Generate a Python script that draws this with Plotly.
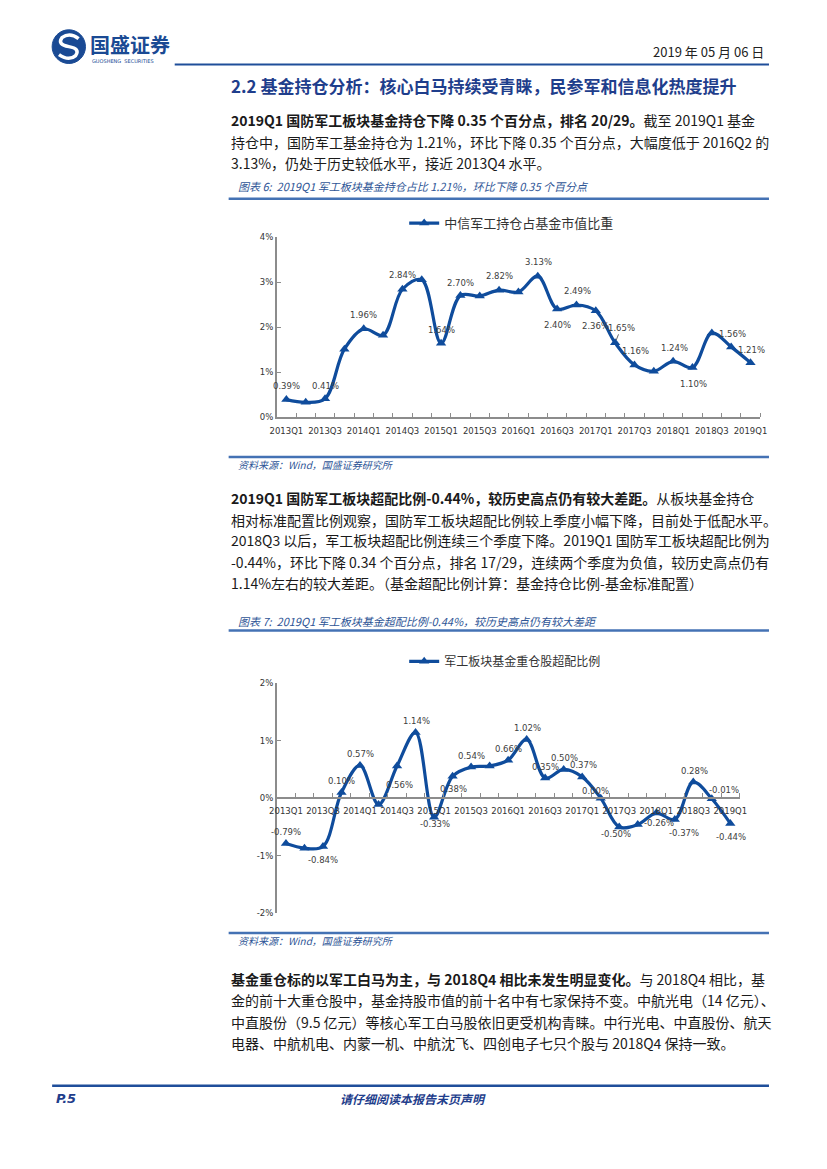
import plotly.graph_objects as go

W, H = 827, 1169


def px(x):
    return x / W


def py(y):
    return 1 - y / H


# ---------------- data ----------------
quarters = ["2013Q1", "2013Q2", "2013Q3", "2013Q4", "2014Q1", "2014Q2", "2014Q3", "2014Q4",
            "2015Q1", "2015Q2", "2015Q3", "2015Q4", "2016Q1", "2016Q2", "2016Q3", "2016Q4",
            "2017Q1", "2017Q2", "2017Q3", "2017Q4", "2018Q1", "2018Q2", "2018Q3", "2018Q4",
            "2019Q1"]
holding_pct = [0.39, 0.33, 0.41, 1.51, 1.96, 1.82, 2.84, 3.05, 1.64, 2.70, 2.69, 2.82, 2.78,
               3.13, 2.40, 2.49, 2.36, 1.65, 1.16, 1.02, 1.24, 1.10, 1.87, 1.56, 1.21]
overweight_pct = [-0.79, -0.87, -0.84, 0.10, 0.57, -0.11, 0.56, 1.14, -0.33, 0.38, 0.54, 0.56,
                  0.66, 1.02, 0.35, 0.50, 0.37, 0.00, -0.50, -0.46, -0.26, -0.37, 0.28, -0.01,
                  -0.44]
series1_name = "中信军工持仓占基金市值比重"
series2_name = "军工板块基金重仓股超配比例"
y1_ticks = [0, 1, 2, 3, 4]
y1_ticktext = ["0%", "1%", "2%", "3%", "4%"]
y2_ticks = [-2, -1, 0, 1, 2]
y2_ticktext = ["-2%", "-1%", "0%", "1%", "2%"]

# label placement (pixel offsets from the point) -- styling only
labels1 = {0: (0, 14), 2: (0, 13), 4: (0, 14), 6: (0, 14.5), 8: (0.5, 13.5), 9: (0.5, 13),
           11: (0.5, 14.4), 13: (0.3, 14), 14: (0.6, -15.6), 15: (1, 14), 16: (-0.4, -15),
           18: (1.3, 13.7), 20: (1.6, 13.7), 21: (1.3, -16), 23: (1, 13), 24: (0.7, 13)}
labels2 = {0: (0, 12), 2: (0, -14), 3: (0, 11.6), 4: (0, 11.3), 6: (2, -19), 7: (0.7, 12),
           8: (1, -7), 9: (0.7, -13), 10: (0.4, 11.4), 12: (0.7, 11.4), 13: (1, 11.2),
           14: (0.5, 11.4), 15: (0.7, 11.7), 16: (1.5, 12), 17: (-5, 7), 18: (-3, -7),
           20: (3, -10), 21: (9.6, -14), 22: (1, 11.5), 23: (12.4, 9), 24: (1, -14)}

LINE_BLUE = "#0F4C9C"
TITLE_BLUE = "#1F3E8C"
CAP_BLUE = "#2E5596"
RULE_BLUE = "#4472B4"
AXIS_GRAY = "#8C8C8C"
CJK = "Noto Sans CJK SC"
LAT = "DejaVu Sans"

idx = list(range(len(quarters)))

fig = go.Figure()
fig.add_trace(go.Scatter(
    x=idx, y=holding_pct, mode="lines+markers", name=series1_name, showlegend=True,
    line=dict(color=LINE_BLUE, width=3.2, shape="spline", smoothing=1),
    marker=dict(symbol="triangle-up", size=9, color=LINE_BLUE),
    xaxis="x", yaxis="y", legend="legend", hoverinfo="skip", cliponaxis=False))
fig.add_trace(go.Scatter(
    x=idx, y=overweight_pct, mode="lines+markers", name=series2_name, showlegend=True,
    line=dict(color=LINE_BLUE, width=3.2, shape="spline", smoothing=1),
    marker=dict(symbol="triangle-up", size=9, color=LINE_BLUE),
    xaxis="x2", yaxis="y2", legend="legend2", hoverinfo="skip", cliponaxis=False))

tickfont = dict(family=LAT, size=8.5, color="#333333")
minor_ticks = dict(tickmode="array", tickvals=[i - 0.5 for i in range(len(quarters) + 1)],
                   ticks="inside", ticklen=4, tickwidth=1, tickcolor=AXIS_GRAY)


def xax(domain, **kw):
    d = dict(domain=domain, range=[-0.5, len(quarters) - 0.5], tickmode="array",
             tickvals=idx[::2], ticktext=quarters[::2], ticks="", showgrid=False,
             zeroline=False, showline=True, linecolor=AXIS_GRAY, linewidth=1.5,
             tickfont=tickfont, minor=minor_ticks, fixedrange=True, ticklabelstandoff=5)
    d.update(kw)
    return d


def yax(domain, rng, tv, tt, **kw):
    d = dict(domain=domain, range=rng, tickmode="array", tickvals=tv, ticktext=tt,
             ticks="inside", ticklen=5, tickwidth=1, tickcolor=AXIS_GRAY, showgrid=False,
             zeroline=False, showline=True, linecolor=AXIS_GRAY, linewidth=1.5,
             tickfont=tickfont, fixedrange=True)
    d.update(kw)
    return d


fig.update_layout(
    width=W, height=H, autosize=False, showlegend=True,
    margin=dict(l=0, r=0, t=0, b=0),
    paper_bgcolor="white", plot_bgcolor="rgba(0,0,0,0)",
    xaxis=xax([px(274), px(767)], anchor="y"),
    yaxis=yax([py(415.7), py(234)], [0, 4], y1_ticks, y1_ticktext, anchor="x"),
    xaxis2=xax([px(274), px(746)], anchor="free", position=py(800)),
    yaxis2=yax([py(916), py(684)], [-2, 2], y2_ticks, y2_ticktext, anchor="x2"),
    legend=dict(visible=True, x=px(404), y=py(220), xanchor="left", yanchor="middle",
                font=dict(family=CJK, size=13, color="#333333"), bgcolor="rgba(0,0,0,0)"),
    legend2=dict(visible=True, x=px(404), y=py(662), xanchor="left", yanchor="middle",
                 font=dict(family=CJK, size=12, color="#333333"), bgcolor="rgba(0,0,0,0)"),
)

ann = []


def lbl_font():
    return dict(family=LAT, size=8.5, color="#404040")


for i, (dx, dy) in labels1.items():
    ann.append(dict(x=idx[i], y=holding_pct[i], xref="x", yref="y", text=f"{holding_pct[i]:.2f}%",
                    showarrow=False, xshift=dx, yshift=dy, font=lbl_font()))
# 2017Q2 label with leader line
ann.append(dict(x=idx[17], y=holding_pct[17], xref="x", yref="y", text=f"{holding_pct[17]:.2f}%",
                showarrow=True, arrowhead=0, arrowwidth=0.8, arrowcolor="#404040",
                ax=6, ay=-15, standoff=3, font=lbl_font()))
for i, (dx, dy) in labels2.items():
    ann.append(dict(x=idx[i], y=overweight_pct[i], xref="x2", yref="y2",
                    text=f"{overweight_pct[i]:.2f}%", showarrow=False, xshift=dx, yshift=dy,
                    font=lbl_font()))


def text(x, y, s, size=14, color="#1a1a1a", xanchor="left", family=CJK):
    ann.append(dict(x=px(x), y=py(y), xref="paper", yref="paper", text=s, showarrow=False,
                    xanchor=xanchor, yanchor="middle", font=dict(family=family, size=size, color=color)))


# header
text(82, 40, "<b>国盛证券</b>", size=20, color="#1A4A94")
text(84, 56, "GUOSHENG  SECURITIES", size=5, color="#1A4A94", family=LAT)
text(773, 47, "2019 年 05 月 06 日", size=13, color="#222222", xanchor="right")
text(225, 81, "<b>2.2 基金持仓分析：核心白马持续受青睐，民参军和信息化热度提升</b>", size=17, color=TITLE_BLUE)

p1 = ["<b>2019Q1 国防军工板块基金持仓下降 0.35 个百分点，排名 20/29。</b>截至 2019Q1 基金",
      "持仓中，国防军工基金持仓为 1.21%，环比下降 0.35 个百分点，大幅度低于 2016Q2 的",
      "3.13%，仍处于历史较低水平，接近 2013Q4 水平。"]
for k, s in enumerate(p1):
    text(225, [116, 138, 159][k], s)

text(232, 183, "<i>图表 6:  2019Q1 军工板块基金持仓占比 1.21%，环比下降 0.35 个百分点</i>", size=11, color=CAP_BLUE)
text(232, 463, "<i>资料来源：Wind，国盛证券研究所</i>", size=10, color=CAP_BLUE)

p2 = ["<b>2019Q1 国防军工板块超配比例-0.44%，较历史高点仍有较大差距。</b>从板块基金持仓",
      "相对标准配置比例观察，国防军工板块超配比例较上季度小幅下降，目前处于低配水平。",
      "2018Q3 以后，军工板块超配比例连续三个季度下降。2019Q1 国防军工板块超配比例为",
      "-0.44%，环比下降 0.34 个百分点，排名 17/29，连续两个季度为负值，较历史高点仍有",
      "1.14%左右的较大差距。（基金超配比例计算：基金持仓比例-基金标准配置）"]
for k, s in enumerate(p2):
    text(225, [497, 519, 540, 562, 583][k], s)

text(232, 621, "<i>图表 7:  2019Q1 军工板块基金超配比例-0.44%，较历史高点仍有较大差距</i>", size=11, color=CAP_BLUE)
text(232, 944, "<i>资料来源：Wind，国盛证券研究所</i>", size=10, color=CAP_BLUE)

p3 = ["<b>基金重仓标的以军工白马为主，与 2018Q4 相比未发生明显变化。</b>与 2018Q4 相比，基",
      "金的前十大重仓股中，基金持股市值的前十名中有七家保持不变。中航光电（14 亿元）、",
      "中直股份（9.5 亿元）等核心军工白马股依旧更受机构青睐。中行光电、中直股份、航天",
      "电器、中航机电、内蒙一机、中航沈飞、四创电子七只个股与 2018Q4 保持一致。"]
for k, s in enumerate(p3):
    text(225, [982, 1004, 1026, 1047][k], s)

# footer
text(47, 1103, "<b><i>P.5</i></b>", size=13, color=TITLE_BLUE, family=LAT)
text(413, 1103, "<b><i>请仔细阅读本报告末页声明</i></b>", size=12, color=TITLE_BLUE, xanchor="center")

fig.update_layout(annotations=ann)


def hline(y, x0, x1, color, width):
    return dict(type="line", xref="paper", yref="paper", x0=px(x0), x1=px(x1), y0=py(y), y1=py(y),
                line=dict(color=color, width=width))


def path(pts):
    out = []
    for cmd, *xy in pts:
        coords = " ".join(f"{px(xy[j]):.5f},{py(xy[j + 1]):.5f}" for j in range(0, len(xy), 2))
        out.append(f"{cmd} {coords}")
    return " ".join(out)


shapes = [
    hline(60, 170, 776, "#1F4E9A", 2),
    hline(195.5, 225, 776, RULE_BLUE, 2.5),
    hline(456, 225, 776, RULE_BLUE, 2.5),
    hline(631, 225, 776, RULE_BLUE, 2.5),
    hline(936, 225, 776, RULE_BLUE, 2.5),
    hline(1090, 45, 776, "#1F4E9A", 2.5),
    # logo icon
    dict(type="circle", xref="paper", yref="paper", x0=px(45), x1=px(79), y0=py(59), y1=py(25),
         fillcolor="#1A4A94", line=dict(color="#1A4A94", width=1)),
    dict(type="path", xref="paper", yref="paper",
         path=path([("M", 72, 34), ("Q", 63, 27, 55, 33), ("Q", 50, 40, 62, 42),
                    ("Q", 74, 44, 69, 51), ("Q", 62, 57, 52, 50)]),
         line=dict(color="white", width=3.5)),
]
fig.update_layout(shapes=shapes)

fig.write_html("out.html", config={"displayModeBar": False},
               post_script="document.body.style.margin='0';")
